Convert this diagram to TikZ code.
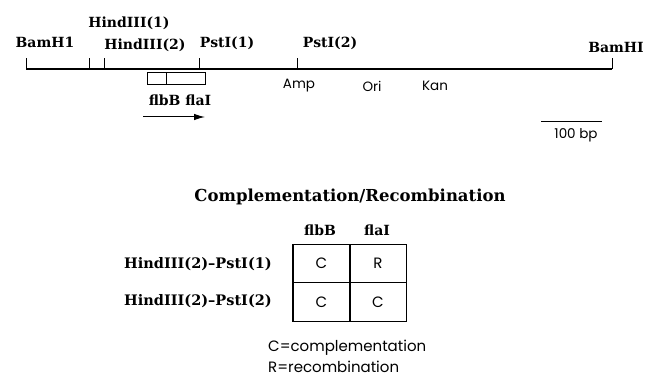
\documentclass[tikz,border=0pt]{standalone}
\usepackage{fontspec}
\newfontfamily\mapsans{Poppins}
\newfontfamily\mapserif{DejaVu Serif}
\usetikzlibrary{positioning, arrows.meta}

\begin{document}
\begin{tikzpicture}[x=1pt, y=-1pt]
	% styles
	\tikzset{
		site/.style = {font=\mapserif\bfseries\fontsize{14}{16}\selectfont, inner sep=0pt},
		marker/.style = {font=\mapsans\fontsize{13.5}{15}\selectfont, inner sep=0pt},
		gene/.style = {draw, line width=0.9pt, minimum height=12pt, inner sep=0pt},
		cell/.style = {draw, line width=1.1pt, minimum width=57pt, minimum height=38.5pt,
			inner sep=0pt, font=\mapsans\fontsize{15}{17}\selectfont},
		legend/.style = {font=\mapsans\fontsize{15}{17}\selectfont, inner sep=0pt, anchor=west}
	}
	\useasboundingbox (0,0) rectangle (645,377);
	
	% restriction map
	\coordinate (start) at (26,69);
	\coordinate (stop) at (612,69);
	\draw[line width=1.2pt] (start) -- (stop);
	\foreach \name/\x in {bamL/26, hindA/89, hindB/104, pstA/199, pstB/297, bamR/612} {
		\coordinate (\name) at (\x,69);
		\draw[line width=0.9pt] (\name) -- ++(0,-11);
	}
	
	% site labels
	\node[site] (lbamL) at (45,42) {BamH1};
	\node[site] (lhindA) at (129,23) {HindIII(1)};
	\node[site] (lhindB) at (145,45) {HindIII(2)};
	\node[site] (lpstA) at (227,43) {PstI(1)};
	\node[site] (lpstB) at (330,43) {PstI(2)};
	\node[site] (lbamR) at (616,47) {BamHI};
	
	% genes
	\node[gene, minimum width=19pt] (flbB) at (156.5,78) {};
	\node[gene, minimum width=39pt] (flaI) at (185.5,78) {};
	\node[site] (genes) at (180,100) {flbB flaI};
	\coordinate (tailA) at (143,117);
	\coordinate (headA) at (205,117);
	\draw[line width=1pt, -{Latex[length=11pt, width=6.5pt]}] (tailA) -- (headA);
	
	% markers
	\node[marker] (amp) at (299,86) {Amp};
	\node[marker] (ori) at (372,86) {Ori};
	\node[marker] (kan) at (435,86) {Kan};
	
	% scale bar
	\coordinate (barL) at (541,122);
	\coordinate (barR) at (602,122);
	\draw[line width=1pt] (barL) -- (barR);
	\node[marker] (bar) at (576,135) {100 bp};
	
	% table
	\node[site, font=\mapserif\bfseries\fontsize{16.5}{18}\selectfont] (title) at (350,197) {Complementation/Recombination};
	\node[site] (colB) at (320,230) {flbB};
	\node[site] (colI) at (377,230) {flaI};
	\node[cell] (c11) at (321.5,263.5) {C};
	\node[cell] (c12) at (378,263.5) {R};
	\node[cell] (c21) at (321.5,302) {C};
	\node[cell] (c22) at (378,302) {C};
	\node[site, anchor=east, font=\mapserif\bfseries\fontsize{14.5}{16}\selectfont] (row1) at (272,264) {HindIII(2)–PstI(1)};
	\node[site, anchor=east, font=\mapserif\bfseries\fontsize{14.5}{16}\selectfont] (row2) at (272,301) {HindIII(2)–PstI(2)};
	
	% legend
	\node[legend] (keyC) at (268,348) {C=complementation};
	\node[legend] (keyR) at (268,367) {R=recombination};
\end{tikzpicture}
\end{document}
